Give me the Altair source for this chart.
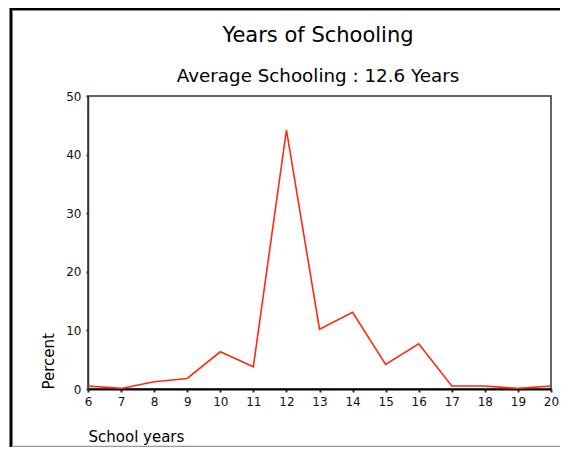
import altair as alt
import pandas as pd

years = list(range(6, 21))
percent = [0.5, 0.1, 1.25, 1.8, 6.35, 3.8, 44.2, 10.2, 13.1, 4.2, 7.7, 0.5, 0.5, 0.1, 0.5]

title_text = "Years of Schooling"
subtitle_text = "Average Schooling : 12.6 Years"

df = pd.DataFrame({"year": years, "pct": percent})
FONT = "DejaVu Sans"

line = alt.Chart(df).mark_line(color="#ff2a10", strokeWidth=1.6).encode(
    x=alt.X("year:Q", scale=alt.Scale(domain=[6, 20], nice=False, zero=False),
            axis=alt.Axis(values=years, title="School years", titleAnchor="start",
                          titleAlign="left", titlePadding=22, format="d", labelFlush=False,
                          domainColor="#000", domainWidth=2, tickSize=3, tickWidth=2,
                          tickColor="#333", labelPadding=4, grid=False)),
    y=alt.Y("pct:Q", scale=alt.Scale(domain=[0, 50], nice=False),
            axis=alt.Axis(values=[0, 10, 20, 30, 40, 50], title="Percent", labelFlush=False,
                          titleAnchor="start", titleAlign="left", titlePadding=9,
                          domainColor="#333", domainWidth=1.5, tickSize=2, tickWidth=2,
                          tickColor="#333", labelPadding=5, grid=False)),
)

one = alt.Data(values=[{"a": 1}])
title_mark = alt.Chart(one).mark_text(font=FONT, fontSize=21, color="#000",
                                      align="center", baseline="alphabetic").encode(
    x=alt.value(230), y=alt.value(-54), text=alt.value(title_text))
subtitle_mark = alt.Chart(one).mark_text(font=FONT, fontSize=18.3, color="#000",
                                         align="center", baseline="alphabetic").encode(
    x=alt.value(230), y=alt.value(-14), text=alt.value(subtitle_text))

frame_left = alt.Chart(one).mark_rule(color="#000", strokeWidth=3).encode(
    x=alt.value(-77), y=alt.value(-88), y2=alt.value(352))
frame_top = alt.Chart(one).mark_rule(color="#000", strokeWidth=2).encode(
    x=alt.value(-78), x2=alt.value(472), y=alt.value(-87))
frame_top2 = alt.Chart(one).mark_rule(color="#888", strokeWidth=1).encode(
    x=alt.value(-76), x2=alt.value(472), y=alt.value(-85.5))
frame_bottom = alt.Chart(one).mark_rule(color="#999", strokeWidth=1.5).encode(
    x=alt.value(-76), x2=alt.value(472), y=alt.value(350.5))

chart = alt.layer(line, title_mark, subtitle_mark, frame_left, frame_top, frame_top2,
                  frame_bottom).properties(
    width=463, height=293,
    autosize=alt.AutoSizeParams(type="none"),
    padding={"left": 80, "top": 88, "right": 9, "bottom": 58},
    background="white",
).configure_view(stroke="#333", strokeWidth=1.5).configure_axis(
    labelFont=FONT, titleFont=FONT, labelFontSize=12, titleFontSize=15,
    labelColor="#111", titleColor="#000", titleFontWeight="normal"
)

chart.save("out.html", embed_options={"renderer": "svg", "actions": False})
